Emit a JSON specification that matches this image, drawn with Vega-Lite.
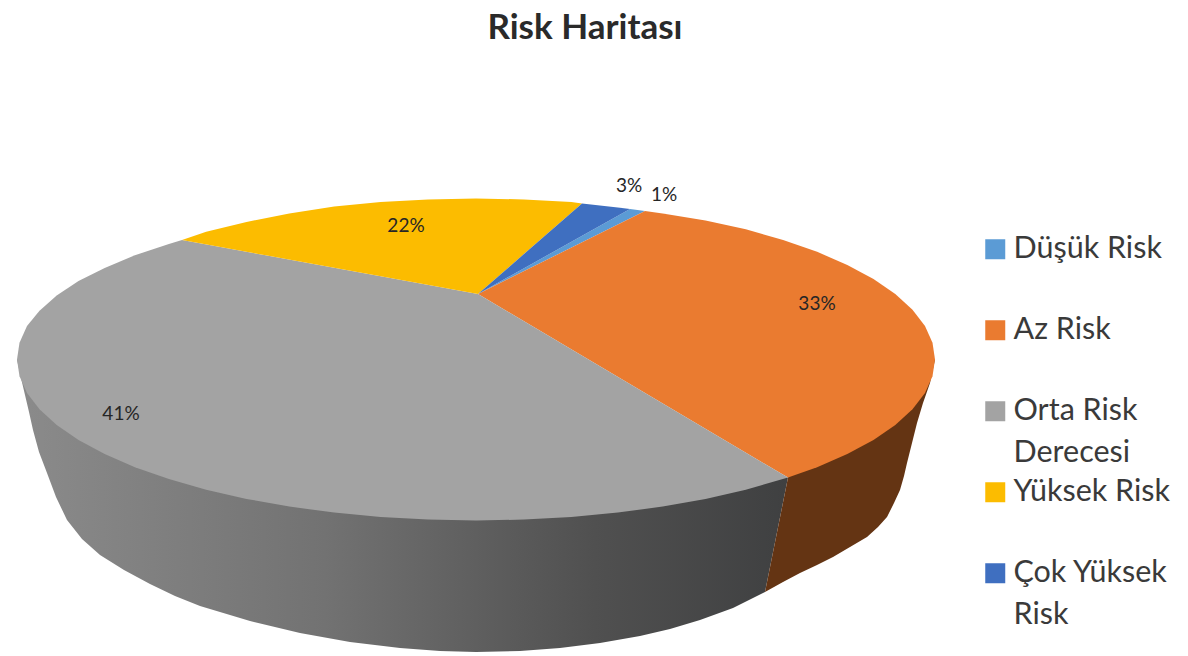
{
  "$schema": "https://vega.github.io/schema/vega-lite/v6.json",
  "width": 1188,
  "height": 656,
  "padding": 0,
  "autosize": "none",
  "background": "#ffffff",
  "view": {"stroke": null},
  "title": {
    "text": "Risk Haritası",
    "anchor": "middle",
    "dx": -9,
    "offset": -46,
    "font": "Lato",
    "fontSize": 35,
    "fontWeight": "bold",
    "color": "#2a2a2a"
  },
  "datasets": {
    "sideOrta": [
      {"i":1,"x":17,"y":359.5},{"i":2,"x":476,"y":400},{"i":3,"x":788,"y":477.6},
      {"i":4,"x":765,"y":592},{"i":5,"x":733,"y":608},{"i":6,"x":700,"y":620},{"i":7,"x":670,"y":629},{"i":8,"x":640,"y":636},{"i":9,"x":600,"y":643},{"i":10,"x":560,"y":648},{"i":11,"x":520,"y":651},{"i":12,"x":476,"y":652},{"i":13,"x":440,"y":651},{"i":14,"x":400,"y":648},{"i":15,"x":350,"y":642},{"i":16,"x":300,"y":633},{"i":17,"x":250,"y":621},{"i":18,"x":200,"y":606},{"i":19,"x":175,"y":596},{"i":20,"x":150,"y":584},{"i":21,"x":124,"y":570},{"i":22,"x":100,"y":555},{"i":23,"x":82,"y":539},{"i":24,"x":67,"y":520},{"i":25,"x":56,"y":497},{"i":26,"x":47,"y":473},{"i":27,"x":39,"y":452},{"i":28,"x":33,"y":430},{"i":29,"x":29,"y":412},{"i":30,"x":25,"y":395},{"i":31,"x":21,"y":378}
    ],
    "sideAz": [
      {"i":1,"x":788,"y":477.6},{"i":2,"x":850,"y":400},{"i":3,"x":935,"y":359.5},
      {"i":4,"x":930,"y":383},{"i":5,"x":923,"y":403},{"i":6,"x":917,"y":423},{"i":7,"x":912,"y":443},{"i":8,"x":907,"y":463},{"i":9,"x":904,"y":476},{"i":10,"x":900,"y":490},{"i":11,"x":894,"y":503},{"i":12,"x":887,"y":517},{"i":13,"x":878,"y":527},{"i":14,"x":867,"y":537},{"i":15,"x":850,"y":547},{"i":16,"x":833,"y":557},{"i":17,"x":817,"y":565},{"i":18,"x":800,"y":573},{"i":19,"x":783,"y":582},{"i":20,"x":765,"y":592}
    ],
    "slices": [
      {"slice":"Düşük Risk","i":0,"x":478,"y":294},{"slice":"Düşük Risk","i":1,"x":630,"y":209},{"slice":"Düşük Risk","i":2,"x":645,"y":211},

      {"slice":"Az Risk","i":0,"x":478,"y":294},{"slice":"Az Risk","i":1,"x":645,"y":211},{"slice":"Az Risk","i":2,"x":662.7,"y":213.5},{"slice":"Az Risk","i":3,"x":705.5,"y":220.5},{"slice":"Az Risk","i":4,"x":745.8,"y":229.3},{"slice":"Az Risk","i":5,"x":783.1,"y":239.9},{"slice":"Az Risk","i":6,"x":817.1,"y":251.8},{"slice":"Az Risk","i":7,"x":847.3,"y":264.9},{"slice":"Az Risk","i":8,"x":873.5,"y":279},{"slice":"Az Risk","i":9,"x":895.3,"y":294},{"slice":"Az Risk","i":10,"x":912.5,"y":309.7},{"slice":"Az Risk","i":11,"x":925,"y":326},{"slice":"Az Risk","i":12,"x":932.5,"y":342.7},{"slice":"Az Risk","i":13,"x":935,"y":359.5},{"slice":"Az Risk","i":14,"x":932.5,"y":376.3},{"slice":"Az Risk","i":15,"x":925,"y":393},{"slice":"Az Risk","i":16,"x":912.5,"y":409.3},{"slice":"Az Risk","i":17,"x":895.3,"y":425},{"slice":"Az Risk","i":18,"x":873.5,"y":440},{"slice":"Az Risk","i":19,"x":847.3,"y":454.1},{"slice":"Az Risk","i":20,"x":817.1,"y":467.2},{"slice":"Az Risk","i":21,"x":788,"y":477.6},

      {"slice":"Orta Risk Derecesi","i":0,"x":478,"y":294},{"slice":"Orta Risk Derecesi","i":1,"x":788,"y":477.6},{"slice":"Orta Risk Derecesi","i":2,"x":745.8,"y":489.7},{"slice":"Orta Risk Derecesi","i":3,"x":705.5,"y":498.9},{"slice":"Orta Risk Derecesi","i":4,"x":662.7,"y":506.6},{"slice":"Orta Risk Derecesi","i":5,"x":617.8,"y":512.6},{"slice":"Orta Risk Derecesi","i":6,"x":571.4,"y":517},{"slice":"Orta Risk Derecesi","i":7,"x":524,"y":519.6},{"slice":"Orta Risk Derecesi","i":8,"x":476,"y":520.5},{"slice":"Orta Risk Derecesi","i":9,"x":428,"y":519.6},{"slice":"Orta Risk Derecesi","i":10,"x":380.6,"y":517},{"slice":"Orta Risk Derecesi","i":11,"x":334.2,"y":512.6},{"slice":"Orta Risk Derecesi","i":12,"x":289.3,"y":506.6},{"slice":"Orta Risk Derecesi","i":13,"x":246.5,"y":498.9},{"slice":"Orta Risk Derecesi","i":14,"x":206.2,"y":489.7},{"slice":"Orta Risk Derecesi","i":15,"x":168.9,"y":479.1},{"slice":"Orta Risk Derecesi","i":16,"x":134.9,"y":467.2},{"slice":"Orta Risk Derecesi","i":17,"x":104.7,"y":454.1},{"slice":"Orta Risk Derecesi","i":18,"x":78.5,"y":440},{"slice":"Orta Risk Derecesi","i":19,"x":56.7,"y":425},{"slice":"Orta Risk Derecesi","i":20,"x":39.5,"y":409.3},{"slice":"Orta Risk Derecesi","i":21,"x":27,"y":393},{"slice":"Orta Risk Derecesi","i":22,"x":19.5,"y":376.3},{"slice":"Orta Risk Derecesi","i":23,"x":17,"y":359.5},{"slice":"Orta Risk Derecesi","i":24,"x":19.5,"y":342.7},{"slice":"Orta Risk Derecesi","i":25,"x":27,"y":326},{"slice":"Orta Risk Derecesi","i":26,"x":39.5,"y":310.7},{"slice":"Orta Risk Derecesi","i":27,"x":56.7,"y":295.5},{"slice":"Orta Risk Derecesi","i":28,"x":78.5,"y":281},{"slice":"Orta Risk Derecesi","i":29,"x":104.7,"y":267.9},{"slice":"Orta Risk Derecesi","i":30,"x":134.9,"y":255.3},{"slice":"Orta Risk Derecesi","i":31,"x":168.9,"y":243.9},{"slice":"Orta Risk Derecesi","i":32,"x":182,"y":240},

      {"slice":"Yüksek Risk","i":0,"x":478,"y":294},{"slice":"Yüksek Risk","i":1,"x":182,"y":240},{"slice":"Yüksek Risk","i":2,"x":206.2,"y":231.8},{"slice":"Yüksek Risk","i":3,"x":246.5,"y":222},{"slice":"Yüksek Risk","i":4,"x":289.3,"y":213.4},{"slice":"Yüksek Risk","i":5,"x":334.2,"y":206.4},{"slice":"Yüksek Risk","i":6,"x":380.6,"y":202},{"slice":"Yüksek Risk","i":7,"x":428,"y":199.4},{"slice":"Yüksek Risk","i":8,"x":476,"y":198.5},{"slice":"Yüksek Risk","i":9,"x":524,"y":199.4},{"slice":"Yüksek Risk","i":10,"x":571.4,"y":202},{"slice":"Yüksek Risk","i":11,"x":582,"y":203.5},

      {"slice":"Çok Yüksek Risk","i":0,"x":478,"y":294},{"slice":"Çok Yüksek Risk","i":1,"x":582,"y":203.5},{"slice":"Çok Yüksek Risk","i":2,"x":617.8,"y":207.6},{"slice":"Çok Yüksek Risk","i":3,"x":630,"y":209}
    ],
    "shares": [
      {"slice":"Düşük Risk","share":0.01,"x":664,"y":195},
      {"slice":"Az Risk","share":0.33,"x":817,"y":304},
      {"slice":"Orta Risk Derecesi","share":0.41,"x":121,"y":414},
      {"slice":"Yüksek Risk","share":0.22,"x":406,"y":226},
      {"slice":"Çok Yüksek Risk","share":0.03,"x":629,"y":186}
    ]
  },
  "encoding": {
    "x": {"field": "x", "type": "quantitative", "axis": null, "scale": {"domain": [0, 1188]}},
    "y": {"field": "y", "type": "quantitative", "axis": null, "scale": {"domain": [656, 0]}}
  },
  "layer": [
    {
      "data": {"name": "sideOrta"},
      "mark": {
        "type": "line",
        "filled": true,
        "interpolate": "linear-closed",
        "strokeWidth": 0,
        "fill": {
          "gradient": "linear", "x1": 0, "y1": 0, "x2": 1, "y2": 0,
          "stops": [
            {"offset": 0, "color": "#8b8b8b"},
            {"offset": 0.4, "color": "#727272"},
            {"offset": 0.75, "color": "#505050"},
            {"offset": 1, "color": "#3f4041"}
          ]
        }
      },
      "encoding": {"order": {"field": "i", "type": "quantitative"}}
    },
    {
      "data": {"name": "sideAz"},
      "mark": {
        "type": "line",
        "filled": true,
        "interpolate": "linear-closed",
        "strokeWidth": 0,
        "fill": "#643413"
      },
      "encoding": {"order": {"field": "i", "type": "quantitative"}}
    },
    {
      "data": {"name": "slices"},
      "mark": {"type": "line", "filled": true, "interpolate": "linear-closed", "strokeWidth": 0},
      "encoding": {
        "order": {"field": "i", "type": "quantitative"},
        "color": {
          "field": "slice",
          "type": "nominal",
          "sort": null,
          "scale": {
            "domain": ["Düşük Risk", "Az Risk", "Orta Risk Derecesi", "Yüksek Risk", "Çok Yüksek Risk"],
            "range": ["#5b9bd5", "#ea7b30", "#a3a3a3", "#fcbc00", "#3f6fc0"]
          },
          "legend": {
            "title": null,
            "orient": "none",
            "legendX": 980,
            "legendY": 234,
            "symbolType": "square",
            "symbolSize": 400,
            "symbolStrokeWidth": 0,
            "labelFont": "Lato",
            "labelFontSize": 30.5,
            "labelColor": "#3a3a3a",
            "labelLimit": 300,
            "labelOffset": 3,
            "gridAlign": "all",
            "rowPadding": 8,
            "encode": {"labels": {"update": {"lineHeight": {"value": 42}}}},
            "labelExpr": "datum.label == 'Orta Risk Derecesi' ? ['Orta Risk', 'Derecesi'] : datum.label == 'Çok Yüksek Risk' ? ['Çok Yüksek', 'Risk'] : datum.label"
          }
        }
      }
    },
    {
      "data": {"name": "shares"},
      "mark": {"type": "text", "font": "Lato", "fontSize": 19, "color": "#262626"},
      "encoding": {"text": {"field": "share", "type": "quantitative", "format": ".0%"}}
    }
  ]
}
